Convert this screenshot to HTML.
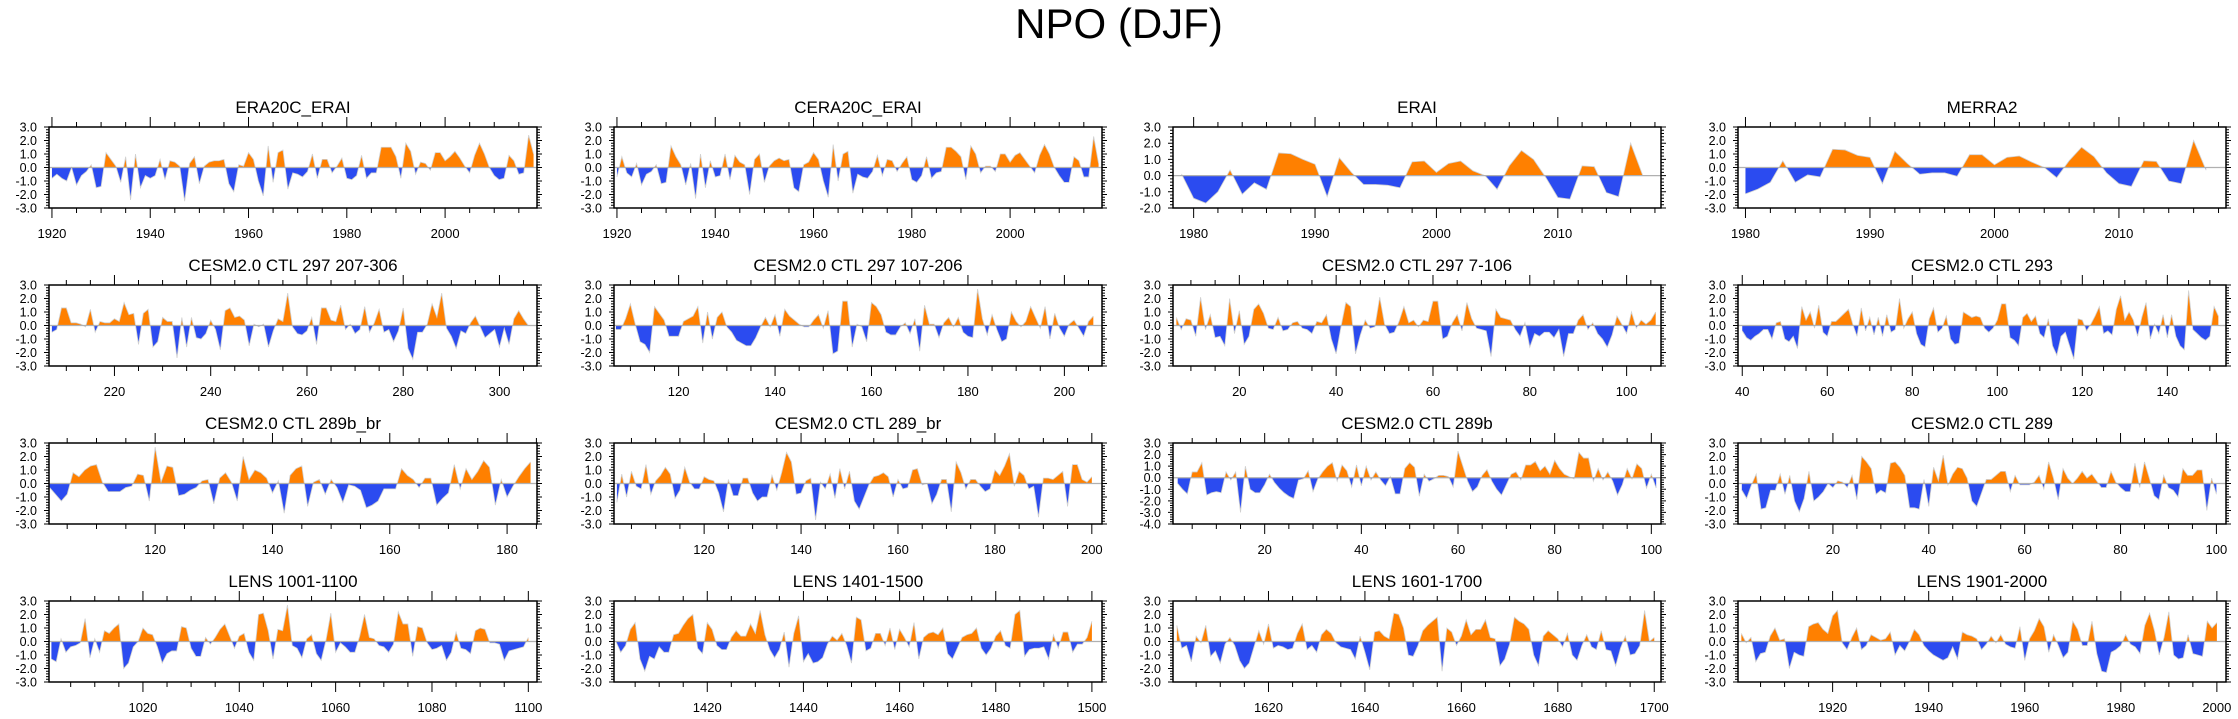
<!DOCTYPE html>
<html><head><meta charset="utf-8">
<style>
html,body{margin:0;padding:0;background:#fff;}
svg{display:block;font-family:"Liberation Sans",Arial,sans-serif;}
</style></head>
<body>
<svg id="fig" width="2238" height="719" viewBox="0 0 2238 719">
<text x="1119" y="38" font-size="42" text-anchor="middle">NPO (DJF)</text>
</svg>
<script>
// ---------- data ----------
const era20cStart = 1920;
const era20cValues = [-0.8,-0.5,-0.8,-1.0,0.0,-1.3,-0.6,-0.3,0.2,-1.5,-1.4,1.1,0.6,0.1,-1.1,0.8,-2.4,1.0,-1.5,-0.6,-0.8,-0.6,0.6,-0.9,0.5,0.4,0.1,-2.5,0.3,0.8,-1.2,0.1,0.4,0.5,0.5,0.6,-1.2,-1.8,0.2,0.1,1.1,0.6,-1.0,-2.1,1.6,-1.1,1.1,1.3,-1.6,-0.4,-0.5,-0.7,-0.3,1.0,-0.8,0.6,0.6,-0.4,0.1,0.7,-0.8,-0.9,-0.6,0.9,-0.8,-0.4,-0.4,1.5,1.5,1.5,0.8,-0.8,1.8,1.2,-0.5,0.4,0.3,-0.2,1.1,1.1,0.5,0.8,1.2,0.7,0.1,-0.4,0.9,1.8,1.0,0.0,-0.6,-0.9,-0.8,0.9,0.5,-0.5,-0.4,2.4,1.0];
const cera20cStart = 1920;
const cera20cValues = [-0.7,0.8,-0.4,-0.7,0.3,-1.3,-0.5,-0.3,0.2,-1.2,-1.1,1.6,0.8,0.2,-1.3,0.3,-2.3,1.0,-1.5,0.5,-0.7,-0.6,1.0,-0.9,0.9,0.4,0.2,-2.0,0.6,1.0,-1.1,0.1,0.5,0.7,0.5,0.6,-1.5,-1.8,0.2,0.4,1.1,0.6,-1.0,-2.2,1.7,-1.0,1.0,1.2,-1.9,-0.5,-0.7,-0.8,-0.3,0.9,-0.6,0.6,0.5,-0.3,0.3,0.8,-0.9,-1.1,-0.6,0.8,-0.8,-0.4,-0.3,1.5,1.5,1.2,0.8,-0.9,1.6,1.0,-0.4,0.1,0.1,-0.3,1.0,1.0,0.4,0.9,1.1,0.6,0.1,-0.4,0.9,1.7,1.0,0.0,-0.6,-1.1,-1.1,0.8,0.5,-0.7,-0.7,2.3,0.3];
const eraiStart = 1979;
const eraiValues = [0.1,-1.4,-1.7,-1.0,0.35,-1.15,-0.45,-0.85,1.4,1.35,1.0,0.7,-1.3,1.1,0.2,-0.55,-0.55,-0.6,-0.75,0.85,0.9,0.2,0.75,0.9,0.3,0.0,-0.85,0.6,1.55,1.0,-0.1,-1.35,-1.45,0.6,0.55,-1.05,-1.3,2.0,0.0];
const merra2Start = 1980;
const merra2Values = [-1.95,-1.6,-1.1,0.5,-1.1,-0.55,-0.7,1.35,1.3,0.9,0.75,-1.2,1.2,0.3,-0.5,-0.4,-0.4,-0.65,0.95,0.95,0.2,0.75,0.85,0.4,0.0,-0.75,0.5,1.5,0.8,-0.4,-1.2,-1.4,0.5,0.45,-1.0,-1.2,2.0,-0.2];
const ctl297aStart = 207;
const ctl297aValues = [-0.5,-0.3,1.3,1.3,0.2,0.2,0.1,-0.1,1.2,-0.5,0.3,0.2,0.2,0.5,0.3,1.7,0.8,0.9,-1.4,0.9,1.2,-1.6,-1.2,0.6,0.3,0.3,-2.4,0.6,-1.6,0.6,-0.9,-1.0,-0.6,0.4,-0.3,-1.8,1.1,1.3,0.6,0.7,0.4,-1.5,0.1,-0.1,0.1,-1.6,-0.4,0.5,0.3,2.4,-0.1,-0.6,-0.7,-0.4,0.6,-1.4,1.3,1.3,0.4,0.3,1.5,-0.3,0.1,-0.6,-0.3,1.4,-0.5,0.2,1.2,-0.5,-0.3,-1.2,-0.4,1.3,-1.7,-2.5,-0.5,-0.5,0.1,1.6,0.6,2.4,-0.2,-0.8,-1.7,-0.4,-0.6,0.2,0.7,-0.1,-0.9,-0.6,-0.3,-1.6,-0.2,-1.4,0.5,1.1,0.5,0.0];
const ctl297bStart = 107;
const ctl297bValues = [-0.3,-0.3,0.5,1.6,0.1,-1.2,-1.4,-2.0,1.4,0.9,0.4,-0.8,-0.8,-0.8,0.3,0.5,0.7,1.4,-1.3,1.0,-1.0,0.6,1.0,-0.1,-0.5,-1.1,-1.3,-1.5,-1.5,-0.9,-0.1,0.6,-0.1,0.8,-0.8,1.2,0.7,0.4,0.1,-0.1,-0.1,0.4,0.8,-0.2,1.1,-2.1,-1.9,1.8,1.8,-1.6,0.1,-0.1,-1.2,1.7,1.4,0.8,-0.5,-0.7,-0.7,-0.1,0.2,-0.6,0.5,-1.9,1.5,0.1,0.1,-0.9,0.2,0.6,-0.1,0.6,-0.5,-0.8,-0.9,2.7,0.5,-0.7,0.8,-0.3,-1.2,-1.0,1.0,0.3,-0.1,0.3,1.4,0.6,-0.2,1.4,-1.0,0.9,-0.2,-0.8,0.1,0.4,-0.2,-0.8,0.3,0.7];
const ctl297cStart = 7;
const ctl297cValues = [0.6,-0.3,0.5,0.4,-0.8,2.1,-0.3,0.8,-0.9,-0.8,-1.5,2.0,-0.6,1.1,-1.4,-0.8,1.2,1.6,0.9,-0.2,-0.3,0.6,-0.4,-0.3,0.2,0.3,-0.2,-0.3,-0.6,0.3,0.2,0.8,-1.0,-2.1,-0.1,1.7,1.4,-2.1,-0.7,0.4,-0.2,-0.1,2.1,0.1,-0.6,-0.5,0.3,1.4,0.2,0.4,-0.1,0.4,0.3,1.8,1.8,-1.0,-0.8,0.2,0.8,-0.4,1.7,0.5,-0.2,-0.3,-0.4,-2.3,1.2,0.6,0.5,0.4,-0.3,-0.8,0.2,-1.6,-0.6,-0.8,-0.5,-0.5,-0.9,-0.3,-2.3,-0.6,-0.6,0.4,0.8,-0.3,0.2,-0.6,-1.0,-1.6,-0.7,0.7,0.1,-0.6,1.0,-0.2,0.4,0.1,0.4,1.0];
const ctl293Start = 40;
const ctl293Values = [-0.4,-0.9,-1.1,-0.8,-0.6,-0.3,-0.3,-1.0,0.2,0.3,-1.0,-1.2,-0.8,-1.7,1.4,0.4,1.0,-0.2,1.5,-0.5,-0.8,0.3,0.3,0.6,0.9,1.2,0.1,-0.8,1.3,-0.4,0.6,-0.7,0.6,-0.8,0.8,-0.5,-0.3,2.0,-0.2,0.5,1.0,-0.6,-1.4,-1.6,0.5,1.3,-0.5,-0.2,0.7,-1.0,-1.4,-1.3,1.0,0.8,0.6,0.7,0.6,-0.2,-0.5,-0.2,0.4,1.6,1.6,-0.9,-1.1,-1.5,0.6,0.9,0.3,0.7,-0.6,-0.9,0.5,-1.5,-2.2,-0.8,-0.5,-1.5,-2.5,0.5,0.4,-0.4,0.1,0.7,1.4,-0.6,-0.4,-0.7,1.2,2.2,0.4,1.0,0.4,-0.8,0.6,1.7,-1.0,0.1,-0.6,0.8,-0.9,0.8,-0.8,-1.5,-1.8,2.6,-0.3,-0.6,-0.9,-1.1,-0.8,1.4,0.7];
const ctl289bbrStart = 102;
const ctl289bbrValues = [-0.3,-0.8,-1.3,-0.8,0.8,0.5,1.0,1.3,1.4,0.1,-0.6,-0.6,-0.6,-0.3,-0.2,0.7,0.6,-1.3,2.7,0.1,1.3,1.2,-0.9,-0.8,-0.5,-0.3,0.2,0.3,-1.5,0.4,0.8,0.1,-1.3,2.0,0.3,1.0,0.8,0.4,-0.7,0.2,-2.2,0.6,1.1,1.3,-1.7,0.1,0.3,-0.8,0.3,-0.3,-1.4,-0.1,-0.2,-0.5,-1.8,-1.6,-1.3,-0.4,-0.4,-0.4,1.1,0.6,0.3,-0.3,0.4,0.4,-1.6,-1.1,-0.7,1.4,-0.4,1.1,0.3,0.9,1.7,1.2,-1.6,0.3,-1.0,-0.2,0.5,1.1,1.6];
const ctl289brStart = 102;
const ctl289brValues = [-1.4,0.7,-1.0,0.9,-0.2,-0.4,1.4,-0.8,0.2,0.6,1.2,0.7,-1.1,-0.5,1.2,0.1,-0.4,-0.4,0.5,0.3,0.2,-0.7,-2.1,0.3,-0.9,-0.9,0.4,0.4,-0.7,-1.3,-1.0,-1.0,0.6,-0.5,0.8,2.3,1.6,-0.8,-0.7,0.2,0.4,-2.7,0.1,-0.4,0.7,-1.1,1.1,-0.4,0.9,-1.3,-1.9,-1.0,-0.1,0.5,0.6,0.8,0.5,-1.0,0.3,-0.4,-0.3,1.0,1.1,-0.1,0.0,-1.5,-0.8,0.3,0.3,-2.1,1.6,0.8,-0.4,0.3,0.3,-0.2,-0.6,-0.4,1.0,0.6,1.3,2.2,-0.2,0.9,0.6,-0.4,-0.2,-2.5,0.4,0.4,0.3,0.6,0.9,-1.7,1.4,1.4,0.3,0.1,0.5];
const ctl289bStart = 2;
const ctl289bValues = [-0.5,-1.0,-1.4,0.5,0.5,1.3,-1.5,-1.3,-1.2,-1.3,0.5,-0.2,0.5,-3.0,1.0,-1.0,-1.3,-1.3,-0.6,0.3,-0.4,-0.9,-1.3,-1.6,-1.8,-0.2,-0.1,0.6,-1.2,-0.1,0.5,1.0,1.3,-0.3,1.1,0.6,-0.8,1.1,-0.7,1.0,-0.2,0.5,-0.2,-0.7,0.1,-1.4,-1.4,0.8,1.3,0.9,-1.6,0.3,-0.3,-0.1,0.2,0.2,0.1,-0.8,2.3,1.0,-0.3,-1.2,-0.8,0.2,0.7,-0.3,-1.0,-1.5,-0.6,0.3,0.5,-0.2,1.1,1.1,1.4,0.6,1.0,0.3,1.5,0.8,0.3,0.1,-0.1,2.2,1.7,1.7,-0.3,0.8,-0.2,0.5,-0.3,-1.5,-0.6,0.8,-0.1,1.2,0.8,-0.9,0.3,-0.9];
const ctl289Start = 1;
const ctl289Values = [-0.5,-1.1,-0.1,0.7,-1.9,-1.8,-0.5,-0.5,0.7,-0.8,0.6,-1.3,-2.1,-1.1,0.9,-1.3,-1.0,-0.6,0.0,-0.3,0.2,0.1,-0.3,0.6,-1.2,2.0,1.6,1.1,-0.8,-0.5,-0.7,1.5,1.6,1.2,0.6,-1.8,-1.8,-1.9,0.3,-1.7,1.2,0.2,2.1,-0.1,0.7,1.2,1.1,0.4,-1.3,-1.7,-0.7,0.3,0.3,0.6,0.9,0.9,-0.6,0.6,-0.1,-0.1,-0.1,0.1,0.6,-0.4,1.6,0.4,-1.2,1.1,0.4,0.0,0.4,0.9,0.4,0.7,0.2,-0.3,-0.3,0.9,0.1,-0.3,-0.6,-0.6,1.5,-0.3,1.6,0.4,-0.9,-1.2,0.6,-0.3,-0.5,-1.0,1.1,0.6,0.6,1.0,1.0,-2.0,0.4,-0.8];
const lens1001Start = 1001;
const lens1001Values = [-1.3,-1.5,0.2,-0.8,-0.4,-0.3,-0.1,1.7,-1.2,0.2,-0.8,0.8,0.6,1.0,1.3,-2.0,-1.6,-0.4,0.0,1.0,0.6,0.5,-0.4,-1.6,-0.9,-0.7,-0.7,1.1,1.0,-0.5,-1.1,-1.1,0.3,-0.2,0.3,0.9,1.3,0.4,-0.5,0.4,0.6,-0.8,-1.4,2.0,2.1,0.8,-1.3,0.9,0.8,2.7,-0.3,-0.5,-1.2,0.2,0.5,-0.9,-1.4,0.1,2.1,-0.8,-0.1,-0.4,-0.8,-0.8,0.4,2.0,0.3,0.2,-0.3,-0.4,-0.8,-0.2,2.2,1.3,1.3,-1.1,1.1,1.0,-0.1,-0.6,-0.5,-0.3,-1.4,-0.8,0.7,-0.5,-0.6,-0.9,0.8,1.0,0.9,-0.1,-0.1,-0.2,-1.4,-0.7,-0.6,-0.5,-0.4,0.3];
const lens1401Start = 1401;
const lens1401Values = [0.0,-0.8,-0.3,0.9,1.4,-1.3,-2.2,-1.1,-1.3,-0.4,-0.8,-0.8,0.5,0.6,1.2,1.7,2.0,-0.5,-0.9,1.4,0.9,-0.3,-0.6,-0.6,0.3,0.8,0.4,0.4,1.3,0.6,2.3,0.5,-0.6,-1.2,-0.6,0.7,-1.9,0.6,1.9,-1.5,-0.9,-1.6,-1.5,-1.2,-0.2,0.4,0.1,0.6,-0.3,-1.6,1.8,1.6,-0.7,-0.5,0.6,0.6,-0.3,1.0,-0.6,0.9,0.3,-0.4,1.4,-1.3,0.3,0.6,0.7,0.5,1.0,-0.9,-1.3,-0.5,0.3,0.5,0.6,1.0,-0.5,-1.0,-0.5,0.4,0.8,-0.3,-0.5,2.0,2.3,-1.1,-0.6,-0.5,-0.5,-0.4,-1.3,0.5,-0.5,0.7,0.7,-0.8,-0.2,-0.2,0.3,1.5];
const lens1601Start = 1601;
const lens1601Values = [1.2,-0.5,-0.3,-1.5,0.4,-0.1,1.2,-1.1,-0.7,-1.6,-0.2,0.3,-0.3,-1.4,-2.0,-1.6,-0.4,0.8,-0.2,1.3,-0.5,-0.3,-0.4,-0.6,-0.5,0.6,1.3,-0.6,-0.3,-0.8,0.5,0.9,0.6,-0.1,-0.4,-0.5,-0.6,-1.3,0.4,-0.8,-2.1,0.7,0.8,0.4,0.2,2.1,2.0,1.0,-1.0,-1.1,-0.3,0.8,1.2,1.5,1.8,-2.2,1.0,0.7,-0.3,0.4,1.6,0.5,0.9,0.9,1.6,0.3,0.2,-1.8,-1.3,-0.2,1.8,1.5,1.3,0.9,-1.0,-1.8,0.4,0.8,0.5,0.2,-0.4,0.6,-1.0,-1.4,-0.3,0.5,-0.4,-0.6,0.8,-0.6,-0.7,-1.8,-0.5,0.4,-1.0,-0.9,-0.3,2.3,0.0,0.3];
const lens1901Start = 1901;
const lens1901Values = [0.6,-0.1,0.3,-1.5,-0.9,-0.8,0.4,1.0,0.1,0.2,-2.0,-0.8,-1.0,-1.1,1.1,1.3,1.4,0.9,0.6,1.9,2.3,-0.1,-0.6,0.3,1.0,-0.6,-0.3,0.5,0.3,0.1,0.2,0.7,-1.0,-0.3,-0.7,0.0,0.9,0.5,-0.3,-0.7,-1.0,-1.2,-1.4,-1.2,-0.4,-1.3,0.7,0.5,0.4,0.2,-0.6,-0.2,0.4,-0.1,0.5,-0.2,-0.4,-0.5,1.1,-1.4,0.2,0.8,1.7,1.1,-0.8,0.5,-0.3,-1.2,-0.8,1.5,0.9,-0.3,-0.3,1.5,-0.9,-2.2,-2.3,-0.8,-0.6,-0.3,0.5,-0.2,-0.4,-0.9,1.2,2.1,0.8,-1.0,0.3,2.2,-1.0,-1.3,-1.2,0.5,-0.9,-1.0,-1.1,1.5,1.0,1.4];

// ---------- panel setup ----------
const panelTitles = ['ERA20C_ERAI','CERA20C_ERAI','ERAI','MERRA2',
 'CESM2.0 CTL 297 207-306','CESM2.0 CTL 297 107-206','CESM2.0 CTL 297 7-106','CESM2.0 CTL 293',
 'CESM2.0 CTL 289b_br','CESM2.0 CTL 289_br','CESM2.0 CTL 289b','CESM2.0 CTL 289',
 'LENS 1001-1100','LENS 1401-1500','LENS 1601-1700','LENS 1901-2000'];
const panelStarts = [era20cStart,cera20cStart,eraiStart,merra2Start,ctl297aStart,ctl297bStart,ctl297cStart,ctl293Start,ctl289bbrStart,ctl289brStart,ctl289bStart,ctl289Start,lens1001Start,lens1401Start,lens1601Start,lens1901Start];
const panelSeries = [era20cValues,cera20cValues,eraiValues,merra2Values,ctl297aValues,ctl297bValues,ctl297cValues,ctl293Values,ctl289bbrValues,ctl289brValues,ctl289bValues,ctl289Values,lens1001Values,lens1401Values,lens1601Values,lens1901Values];
const panelXMin = [1919.4,1919.4,1978.3,1979.4,206.4,106.6,6.3,39,101.9,101.4,1.03,0.2,1000.5,1400.6,1600.2,1900.3];
const panelXMax = [2018.7,2018.7,2018.5,2018.6,307.8,207.8,107.1,153.8,185.1,202.1,102,102,1101.8,1502.1,1701.4,2001.9];
const panelYMin = [-3,-3,-2,-3,-3,-3,-3,-3,-3,-3,-4,-3,-3,-3,-3,-3];
const panelYMax = [3,3,3,3,3,3,3,3,3,3,3,3,3,3,3,3];
const panelMajor = [20,20,10,10,20,20,20,20,20,20,20,20,20,20,20,20];
const panelMinor = [5,5,2,2,5,5,5,5,5,5,5,5,5,5,5,5];

const colLeft = [49,614,1173,1738], rowTop = [127,285,443,601], PW = 488, PH = 81;
const NS = 'http://www.w3.org/2000/svg';
const svg = document.getElementById('fig');
function mk(parent, tag, attrs){const e=document.createElementNS(NS,tag);for(const k in attrs)e.setAttribute(k,attrs[k]);parent.appendChild(e);return e;}

panelTitles.forEach((title,i)=>{
  const L=colLeft[i%4], T=rowTop[Math.floor(i/4)];
  const xmin=panelXMin[i], xmax=panelXMax[i], ymin=panelYMin[i], ymax=panelYMax[i];
  const sx=v=>L+(v-xmin)/(xmax-xmin)*PW;
  const sy=v=>T+(ymax-v)/(ymax-ymin)*PH;
  const g=mk(svg,'g',{});
  
  

  const tt=mk(g,'text',{x:L+PW/2,y:T-14,'font-size':17,'text-anchor':'middle'});
  tt.textContent=title;
  
  

  const vals=panelSeries[i], x0=panelStarts[i];
  const y0=sy(0);
  let d='M'+sx(x0).toFixed(2)+','+y0.toFixed(2);
  vals.forEach((v,k)=>{d+=' L'+sx(x0+k).toFixed(2)+','+sy(v).toFixed(2);});
  d+=' L'+sx(x0+vals.length-1).toFixed(2)+','+y0.toFixed(2)+' Z';
  const cid='c'+i;
  const defs=mk(g,'defs',{});
  const cpA=mk(defs,'clipPath',{id:cid+'a'}); mk(cpA,'rect',{x:L,y:T,width:PW,height:y0-T});
  const cpB=mk(defs,'clipPath',{id:cid+'b'}); mk(cpB,'rect',{x:L,y:y0,width:PW,height:T+PH-y0});
  const pos=mk(g,'path',{d:d,fill:'#ff8000','clip-path':'url(#'+cid+'a)'});
  
  
  const neg=mk(g,'path',{d:d,fill:'#2b4bf0','clip-path':'url(#'+cid+'b)'});
  
  
  let ld='';
  vals.forEach((v,k)=>{ld+=(k?' L':'M')+sx(x0+k).toFixed(2)+','+sy(v).toFixed(2);});
  const ln=mk(g,'path',{d:ld,fill:'none',stroke:'#d0d0d0','stroke-width':0.8});
  
  
  const zl=mk(g,'line',{x1:L,x2:L+PW,y1:y0,y2:y0,stroke:'#b0b0b0','stroke-width':1.2});
  
  

  // ticks
  let td='';
  const mj=panelMajor[i], mn=panelMinor[i];
  for(let v=Math.ceil(xmin/mn)*mn; v<=xmax; v+=mn){
    const X=sx(v).toFixed(2), big=(Math.round(v)%mj===0), len=big?10:5;
    td+=`M${X},${T}V${T-len}M${X},${T+PH}V${T+PH+len}`;
  }
  for(let k=Math.round(ymin*5); k<=Math.round(ymax*5); k++){
    const Y=sy(k/5).toFixed(2), big=(k%5===0), len=big?5:3;
    td+=`M${L},${Y}H${L-len}M${L+PW},${Y}H${L+PW+len}`;
  }
  const tk=mk(g,'path',{d:td,stroke:'#000','stroke-width':1,fill:'none'});
  
  

  const box=mk(g,'rect',{x:L,y:T,width:PW,height:PH,fill:'none',stroke:'#000','stroke-width':1.5});
  
  

  for(let v=Math.ceil(xmin/mj)*mj; v<=xmax; v+=mj){
    const t=mk(g,'text',{x:sx(v),y:T+PH+30,'font-size':13,'text-anchor':'middle'});
    t.textContent=String(v);
    
    
  }
  for(let v=ymin; v<=ymax; v++){
    const t=mk(g,'text',{x:L-12,y:sy(v)+4.5,'font-size':12.5,'text-anchor':'end'});
    t.textContent=v.toFixed(1);
    
    
  }
});
</script>
</body></html>
